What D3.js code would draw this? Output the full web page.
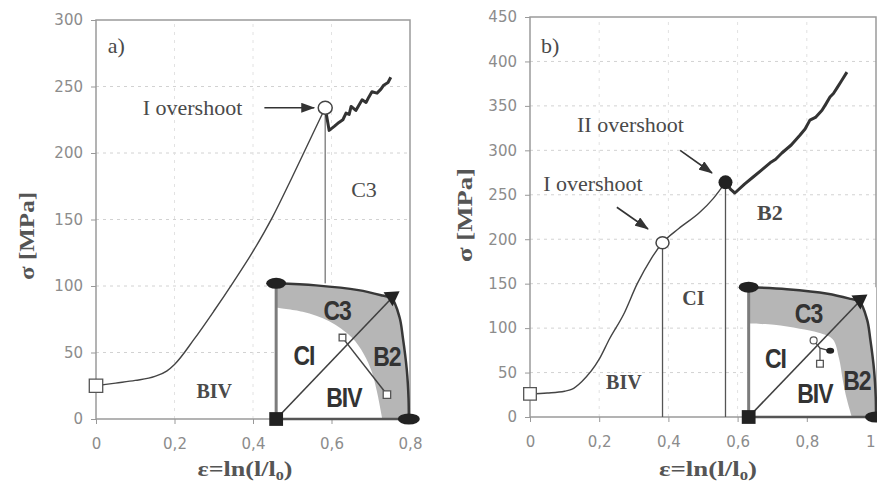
<!DOCTYPE html>
<html>
<head>
<meta charset="utf-8">
<script src="https://cdn.jsdelivr.net/npm/d3@7"></script>
<style>
  body { margin: 0; background: #fff; }
  svg { display: block; }
  .tick text { font-family: "DejaVu Sans", sans-serif; font-size: 15px; fill: #8c8c8c; }
  .tick line { stroke: #999; }
  .serif { font-family: "Liberation Serif", "Times New Roman", serif; fill: #4a4a4a; }
  .title { font-family: "Liberation Serif", "Times New Roman", serif; font-weight: bold; fill: #555; }
  .inlbl { font-family: "Liberation Sans", Arial, sans-serif; font-weight: bold; font-size: 23px; fill: #333; letter-spacing: -1px; }
</style>
</head>
<body>
<svg id="chart" width="877" height="491"></svg>
<script>
// ---- panel a) data ----
var aStrain = [0, 0.05, 0.1, 0.15, 0.18, 0.2, 0.25, 0.3, 0.35, 0.4, 0.45, 0.5, 0.55, 0.584];
var aStress = [25, 27, 29, 32, 36, 41, 60, 81, 103, 126, 152, 182, 213, 234];
var aJagStrain = [0.584, 0.594, 0.607, 0.619, 0.629, 0.637, 0.645, 0.650, 0.662, 0.678, 0.688, 0.695, 0.703, 0.716, 0.726, 0.733, 0.744, 0.751];
var aJagStress = [234, 217, 220, 223, 225, 230, 229, 235, 232, 240, 238, 242, 246, 245, 248, 251, 253, 257];
var aStart = [0, 25];
var aOver1 = [0.584, 234];
var aXTicks = [0, 0.2, 0.4, 0.6, 0.8];
var aYTicks = [0, 50, 100, 150, 200, 250, 300];

// ---- panel b) data ----
var bStrain = [0, 0.05, 0.1, 0.12, 0.15, 0.2, 0.23, 0.27, 0.31, 0.35, 0.383, 0.43, 0.49, 0.53, 0.565];
var bStress = [26, 27, 29, 31, 40, 65, 88, 115, 150, 178, 196, 212, 230, 246, 264];
var bJagStrain = [0.565, 0.58, 0.592, 0.62, 0.645, 0.67, 0.694, 0.71, 0.728, 0.755, 0.78, 0.795, 0.809, 0.825, 0.844, 0.855, 0.867, 0.877, 0.887, 0.9, 0.916];
var bJagStress = [264, 256, 252, 262, 270, 278, 286, 290, 297, 306, 317, 324, 334, 337, 345, 352, 360, 364, 370, 378, 388];
var bStart = [0, 26];
var bOver1 = [0.383, 196];
var bOver2 = [0.565, 264];
var bXTicks = [0, 0.2, 0.4, 0.6, 0.8, 1];
var bYTicks = [0, 50, 100, 150, 200, 250, 300, 350, 400, 450];

// ---- inset diagram (unit square) ----
var arcU = [0, 0.3, 0.62, 0.8, 0.87, 0.93, 0.955, 0.985, 0.998, 1];
var arcV = [1, 0.985, 0.95, 0.91, 0.89, 0.75, 0.6, 0.36, 0.15, 0];
var aInnerU = [0, 0.2, 0.4, 0.57, 0.66, 0.72, 0.76, 0.8];
var aInnerV = [0.82, 0.79, 0.72, 0.6, 0.48, 0.35, 0.2, 0];
var bInnerU = [0, 0.2, 0.4, 0.55, 0.66, 0.71, 0.74, 0.77, 0.81];
var bInnerV = [0.72, 0.71, 0.68, 0.65, 0.6, 0.45, 0.28, 0.14, 0];
var triangle = [0.87, 0.89];

var svg = d3.select("#chart");

var fmt = function(d) {
  if (d === 0 || d === 1) return String(d);
  return d.toFixed(1).replace(".", ",");
};

function zip(xs, ys) { return xs.map(function(v, i) { return [v, ys[i]]; }); }

function drawFrame(g, x, y, xt, yt) {
  var x0 = x.range()[0], x1 = x.range()[1], y0 = y.range()[0], y1 = y.range()[1];
  // grid
  g.selectAll(".hgrid").data(yt.slice(1, -1)).enter().append("line")
    .attr("x1", x0).attr("x2", x1)
    .attr("y1", d => y(d)).attr("y2", d => y(d))
    .attr("stroke", "#d2d2d2").attr("stroke-dasharray", "3,4");
  g.selectAll(".vgrid").data(xt.slice(1, -1)).enter().append("line")
    .attr("x1", d => x(d)).attr("x2", d => x(d))
    .attr("y1", y0).attr("y2", y1)
    .attr("stroke", "#e2e2e2").attr("stroke-dasharray", "3,5");
  g.append("rect")
    .attr("x", x0).attr("y", y1).attr("width", x1 - x0).attr("height", y0 - y1)
    .attr("fill", "none").attr("stroke", "#9a9a9a").attr("stroke-width", 1.5);

  var xa = g.append("g").attr("transform", `translate(0,${y0})`)
    .call(d3.axisBottom(x).tickValues(xt).tickSize(5).tickPadding(14).tickFormat(fmt))
    .call(a => a.select(".domain").remove());
  // last label of a full-width panel sits at the picture edge
  xa.selectAll(".tick text").filter(d => x(d) > 870).attr("text-anchor", "end").attr("dx", -1);
  g.append("g").attr("transform", `translate(${x0},0)`)
    .call(d3.axisLeft(y).tickValues(yt).tickSize(5).tickPadding(8).tickFormat(d3.format("d")))
    .call(a => a.select(".domain").remove());
}

function drawInset(g, x, y, box, innerU, innerV, extras) {
  var u = d3.scaleLinear().domain([0, 1]).range([x(box[0]), x(box[1])]);
  var v = d3.scaleLinear().domain([0, 1]).range([y(box[2]), y(box[3])]);
  var ig = g.append("g");
  ig.append("rect")
    .attr("x", u(0)).attr("y", v(1)).attr("width", u(1) - u(0)).attr("height", v(0) - v(1))
    .attr("fill", "#fff");

  var outer = zip(arcU, arcV);
  var inner = zip(innerU, innerV);
  var band = d3.line().x(d => u(d[0])).y(d => v(d[1])).curve(d3.curveCatmullRom);
  ig.append("path")
    .attr("d", band(outer) + "L" + band(inner.slice().reverse()).slice(1) + "Z")
    .attr("fill", "#b6b6b6");
  ig.append("line").attr("x1", u(0)).attr("x2", u(0)).attr("y1", v(0)).attr("y2", v(1))
    .attr("stroke", "#7c7c7c").attr("stroke-width", 3);
  ig.append("line").attr("x1", u(0)).attr("x2", u(1)).attr("y1", v(0)).attr("y2", v(0))
    .attr("stroke", "#555").attr("stroke-width", 2.5);
  ig.append("path").attr("d", band(outer))
    .attr("fill", "none").attr("stroke", "#383838").attr("stroke-width", 2.5);
  ig.append("line").attr("x1", u(0)).attr("y1", v(0)).attr("x2", u(triangle[0])).attr("y2", v(triangle[1]))
    .attr("stroke", "#404040").attr("stroke-width", 1.6);

  extras(ig, u, v);

  ig.append("path").attr("d", d3.symbol(d3.symbolSquare, 190)())
    .attr("transform", `translate(${u(0)},${v(0)})`).attr("fill", "#222");
  ig.append("ellipse").attr("cx", u(0)).attr("cy", v(1)).attr("rx", 10).attr("ry", 5.5).attr("fill", "#222");
  ig.append("ellipse").attr("cx", u(1)).attr("cy", v(0)).attr("rx", 11).attr("ry", 5.5).attr("fill", "#222");
  ig.append("path").attr("d", "M-8,-6 L8,-7 L1,8 Z")
    .attr("transform", `translate(${u(triangle[0])},${v(triangle[1])})`).attr("fill", "#222");
  return { u: u, v: v, g: ig };
}

function inLabels(ins, items) {
  items.forEach(function(t) {
    ins.g.append("text").attr("class", "inlbl")
      .attr("text-anchor", "middle").attr("dominant-baseline", "central")
      .attr("transform", `translate(${ins.u(t[1])},${ins.v(t[2])}) scale(1,1.2)`)
      .text(t[0]);
  });
}

function openSquare(g, px, py, size) {
  g.append("path").attr("d", d3.symbol(d3.symbolSquare, size)())
    .attr("transform", `translate(${px},${py})`)
    .attr("fill", "#fff").attr("stroke", "#555").attr("stroke-width", 1.3);
}

function axisTitles(g, cxY, cyY, lenY, cxX, yX, lenX) {
  var ty = g.append("g").attr("transform", `translate(${cxY},${cyY}) rotate(-90)`);
  var t1 = ty.append("text").attr("class", "title").attr("font-size", 20)
    .attr("text-anchor", "middle").attr("dy", "0.35em").text("σ [MPa]");
  t1.attr("transform", `scale(${lenY / t1.node().getComputedTextLength()},1)`);
  var tx = g.append("g").attr("transform", `translate(${cxX},${yX})`);
  var t2 = tx.append("text").attr("class", "title").attr("font-size", 21).attr("text-anchor", "middle");
  t2.append("tspan").text("ε=ln(l/l");
  t2.append("tspan").attr("font-size", 13).attr("dy", 4).text("0");
  t2.append("tspan").attr("dy", -4).text(")");
  t2.attr("transform", `scale(${lenX / t2.node().getComputedTextLength()},1)`);
}

svg.append("defs").append("marker")
  .attr("id", "arrow").attr("markerUnits", "userSpaceOnUse")
  .attr("markerWidth", 14).attr("markerHeight", 10).attr("refX", 13).attr("refY", 5)
  .attr("orient", "auto")
  .append("path").attr("d", "M0,0 L14,5 L0,10 Z").attr("fill", "#333");

function arrow(g, p0, p1) {
  g.append("line").attr("x1", p0[0]).attr("y1", p0[1]).attr("x2", p1[0]).attr("y2", p1[1])
    .attr("stroke", "#333").attr("stroke-width", 1.6).attr("marker-end", "url(#arrow)");
}

function label(g, x, y, d, txt, size, bold) {
  g.append("text").attr("class", "serif").attr("x", x(d[0])).attr("y", y(d[1]))
    .attr("font-size", size).attr("font-weight", bold ? "bold" : "normal").text(txt);
}

// ================= panel a =================
var xA = d3.scaleLinear().domain([0, 0.8]).range([96, 410]);
var yA = d3.scaleLinear().domain([0, 300]).range([419, 20]);
var gA = svg.append("g");
drawFrame(gA, xA, yA, aXTicks, aYTicks);

gA.append("line").attr("x1", xA(aOver1[0])).attr("x2", xA(aOver1[0]))
  .attr("y1", yA(aOver1[1])).attr("y2", yA(0)).attr("stroke", "#8a8a8a").attr("stroke-width", 1.5);

var insA = drawInset(gA, xA, yA, [0.459, 0.797, 0, 102], aInnerU, aInnerV, function(ig, u, v) {
  ig.append("line").attr("x1", u(0.5)).attr("y1", v(0.6)).attr("x2", u(0.835)).attr("y2", v(0.18))
    .attr("stroke", "#444").attr("stroke-width", 1.5);
  openSquare(ig, u(0.5), v(0.6), 45);
  openSquare(ig, u(0.835), v(0.18), 55);
});
inLabels(insA, [["C3", 0.46, 0.8], ["CI", 0.21, 0.47], ["B2", 0.835, 0.46], ["BIV", 0.51, 0.16]]);

var lineA = d3.line().x(d => xA(d[0])).y(d => yA(d[1]));
gA.append("path").attr("d", lineA.curve(d3.curveMonotoneX)(zip(aStrain, aStress)))
  .attr("fill", "none").attr("stroke", "#444").attr("stroke-width", 1.4);
gA.append("path").attr("d", d3.line().x(d => xA(d[0])).y(d => yA(d[1]))(zip(aJagStrain, aJagStress)))
  .attr("fill", "none").attr("stroke", "#333").attr("stroke-width", 3).attr("stroke-linejoin", "round");
openSquare(gA, xA(aStart[0]), yA(aStart[1]), 180);
gA.append("ellipse").attr("cx", xA(aOver1[0])).attr("cy", yA(aOver1[1])).attr("rx", 7).attr("ry", 6.5)
  .attr("fill", "#fff").attr("stroke", "#444").attr("stroke-width", 1.5);

label(gA, xA, yA, [0.03, 275], "a)", 22, false);
label(gA, xA, yA, [0.119, 228.6], "I overshoot", 22, false);
label(gA, xA, yA, [0.65, 167], "C3", 22, false);
label(gA, xA, yA, [0.256, 16], "BIV", 20, true);
arrow(gA, [xA(0.429), yA(234)], [xA(0.556), yA(234)]);
axisTitles(gA, 27, 236, 88, 245, 476, 95);

// ================= panel b =================
var xB = d3.scaleLinear().domain([0, 1]).range([530, 876]);
var yB = d3.scaleLinear().domain([0, 450]).range([417, 17]);
var gB = svg.append("g");
drawFrame(gB, xB, yB, bXTicks, bYTicks);

[bOver1, bOver2].forEach(function(p) {
  gB.append("line").attr("x1", xB(p[0])).attr("x2", xB(p[0]))
    .attr("y1", yB(p[1])).attr("y2", yB(0)).attr("stroke", "#555").attr("stroke-width", 1.3);
});

var insB = drawInset(gB, xB, yB, [0.632, 1.0, 0, 146], bInnerU, bInnerV, function(ig, u, v) {
  ig.append("polyline")
    .attr("points", [[u(0.51), v(0.59)], [u(0.56), v(0.53)], [u(0.64), v(0.51)]].join(" "))
    .attr("fill", "none").attr("stroke", "#444").attr("stroke-width", 1.4);
  ig.append("line").attr("x1", u(0.56)).attr("y1", v(0.53)).attr("x2", u(0.56)).attr("y2", v(0.41))
    .attr("stroke", "#444").attr("stroke-width", 1.2);
  ig.append("circle").attr("cx", u(0.51)).attr("cy", v(0.59)).attr("r", 3.5)
    .attr("fill", "#fff").attr("stroke", "#555").attr("stroke-width", 1.2);
  ig.append("ellipse").attr("cx", u(0.64)).attr("cy", v(0.51)).attr("rx", 4).attr("ry", 3).attr("fill", "#222");
  openSquare(ig, u(0.56), v(0.41), 45);
});
inLabels(insB, [["C3", 0.47, 0.8], ["CI", 0.21, 0.45], ["B2", 0.85, 0.28], ["BIV", 0.52, 0.18]]);

gB.append("path").attr("d", d3.line().x(d => xB(d[0])).y(d => yB(d[1])).curve(d3.curveMonotoneX)(zip(bStrain, bStress)))
  .attr("fill", "none").attr("stroke", "#444").attr("stroke-width", 1.4);
gB.append("path").attr("d", d3.line().x(d => xB(d[0])).y(d => yB(d[1]))(zip(bJagStrain, bJagStress)))
  .attr("fill", "none").attr("stroke", "#333").attr("stroke-width", 3).attr("stroke-linejoin", "round");
openSquare(gB, xB(bStart[0]), yB(bStart[1]), 160);
gB.append("ellipse").attr("cx", xB(bOver1[0])).attr("cy", yB(bOver1[1])).attr("rx", 6.5).attr("ry", 6)
  .attr("fill", "#fff").attr("stroke", "#444").attr("stroke-width", 1.5);
gB.append("circle").attr("cx", xB(bOver2[0])).attr("cy", yB(bOver2[1])).attr("r", 7).attr("fill", "#222");

label(gB, xB, yB, [0.032, 409.5], "b)", 22, false);
label(gB, xB, yB, [0.136, 320.6], "II overshoot", 22, false);
label(gB, xB, yB, [0.038, 254], "I overshoot", 22, false);
label(gB, xB, yB, [0.656, 221.6], "B2", 22, true);
label(gB, xB, yB, [0.44, 126], "CI", 20, true);
label(gB, xB, yB, [0.22, 31.5], "BIV", 20, true);
arrow(gB, [xB(0.434), yB(300)], [xB(0.526), yB(274.5)]);
arrow(gB, [xB(0.251), yB(236)], [xB(0.341), yB(211.5)]);
axisTitles(gB, 465, 215, 94, 708, 476, 98);
</script>
</body>
</html>
